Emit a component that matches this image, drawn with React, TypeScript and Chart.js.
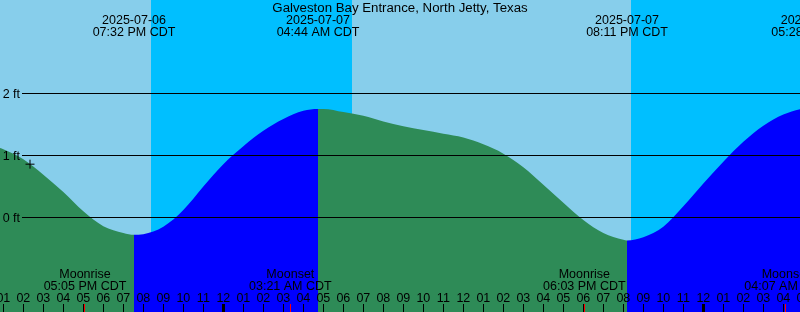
import React, { useEffect, useRef } from "react";
import { Chart, registerables } from "chart.js";

Chart.register(...registerables);

// Hours since 2025-07-06 00:00 CDT
const X_MIN = 12.833;
const X_MAX = 52.833;
const Y_MIN = -1.524;
const Y_MAX = 3.508;

const TITLE = "Galveston Bay Entrance, North Jetty, Texas";

const TIDE_TIMES = [
  12, 12.833, 13, 14, 15, 16, 17, 18, 19, 19.533, 20, 21, 22, 23, 24, 25, 26, 27, 28, 28.733,
  29, 30, 31, 32, 33, 34, 35, 36, 37, 38, 39, 40, 41, 42, 43, 44, 44.183,
  45, 46, 47, 48, 49, 50, 51, 52, 53, 53.467,
];
const TIDE_LEVELS = [
  1.2, 1.12, 1.1, 0.94, 0.69, 0.41, 0.1, -0.14, -0.25, -0.28, -0.27, -0.15, 0.12, 0.5, 0.86, 1.15, 1.4, 1.59, 1.72, 1.75,
  1.75, 1.7, 1.64, 1.55, 1.47, 1.41, 1.35, 1.29, 1.18, 1.03, 0.81, 0.53, 0.24, -0.04, -0.25, -0.36, -0.37,
  -0.32, -0.15, 0.18, 0.55, 0.9, 1.22, 1.48, 1.66, 1.76, 1.78,
];

const EXTREME_TIMES = [19.533, 28.733, 44.183, 53.467];
const EXTREME_DATES = ["2025-07-06", "2025-07-07", "2025-07-07", "2025-07-08"];
const EXTREME_LABELS = ["07:32 PM CDT", "04:44 AM CDT", "08:11 PM CDT", "05:28 AM CDT"];

const MOON_TIMES = [17.083, 27.35, 42.05, 52.117];
const MOON_EVENTS = ["Moonrise", "Moonset", "Moonrise", "Moonset"];
const MOON_LABELS = ["05:05 PM CDT", "03:21 AM CDT", "06:03 PM CDT", "04:07 AM CDT"];

const NIGHT_STARTS = [20.385, 44.385];
const NIGHT_ENDS = [30.435, 54.45];

const HOUR_START = 13;
const HOUR_LABELS = [
  "01", "02", "03", "04", "05", "06", "07", "08", "09", "10", "11", "12",
  "01", "02", "03", "04", "05", "06", "07", "08", "09", "10", "11", "12",
  "01", "02", "03", "04", "05", "06", "07", "08", "09", "10", "11", "12",
  "01", "02", "03", "04", "05",
];
const MIDNIGHTS = [24, 48];

const LEVEL_TICKS = [0, 1, 2];
const LEVEL_LABELS = ["0 ft", "1 ft", "2 ft"];

const NOW_TIME = 14.333;
const NOW_LEVEL = 0.86;

const SKY_DAY = "#87CEEB";
const SKY_NIGHT = "#00BFFF";
const WATER_RISE = "#0000FF";
const WATER_FALL = "#2E8B57";
const FONT = '12.5px "Liberation Sans", Arial, sans-serif';
const TITLE_FONT = '13.25px "Liberation Sans", Arial, sans-serif';

const tidePlugin = {
  id: "tidePlugin",
  beforeDatasetsDraw(chart: any) {
    const { ctx, chartArea: a, scales } = chart;
    const x = scales.x;
    ctx.save();
    ctx.fillStyle = SKY_DAY;
    ctx.fillRect(a.left, a.top, a.right - a.left, a.bottom - a.top);
    ctx.fillStyle = SKY_NIGHT;
    NIGHT_STARTS.forEach((s, i) => {
      const x0 = Math.round(x.getPixelForValue(s));
      const x1 = Math.round(x.getPixelForValue(NIGHT_ENDS[i]));
      ctx.fillRect(x0, a.top, x1 - x0, a.bottom - a.top);
    });
    ctx.restore();
  },
  afterDatasetsDraw(chart: any) {
    const { ctx, chartArea: a, scales } = chart;
    const x = scales.x;
    const y = scales.y;
    ctx.save();
    ctx.font = FONT;
    ctx.fillStyle = "#000";
    ctx.textBaseline = "alphabetic";
    // level lines
    LEVEL_TICKS.forEach((v, i) => {
      const py = Math.floor(y.getPixelForValue(v));
      ctx.fillRect(22, py, a.right - 22, 1);
      ctx.textAlign = "right";
      ctx.fillText(LEVEL_LABELS[i], 20, py + 5);
    });
    ctx.textAlign = "center";
    // title
    ctx.font = TITLE_FONT;
    ctx.fillText(TITLE, (a.left + a.right) / 2, 12);
    ctx.font = FONT;
    // extremes
    EXTREME_TIMES.forEach((t, i) => {
      const px = x.getPixelForValue(t);
      ctx.fillText(EXTREME_DATES[i], px, 24);
      ctx.fillText(EXTREME_LABELS[i], px, 36);
    });
    // moon events
    MOON_TIMES.forEach((t, i) => {
      const px = x.getPixelForValue(t);
      ctx.fillText(MOON_EVENTS[i], px, 278);
      ctx.fillText(MOON_LABELS[i], px, 290);
    });
    // hour ticks + labels
    HOUR_LABELS.forEach((lab, i) => {
      const t = HOUR_START + i;
      const px = x.getPixelForValue(t);
      ctx.fillText(lab, px, 302);
      const thick = MIDNIGHTS.indexOf(t) >= 0;
      if (thick) ctx.fillRect(Math.floor(px) - 1, 304, 3, 8);
      else ctx.fillRect(Math.floor(px), 304, 1, 8);
    });
    ctx.fillStyle = "#FF0000";
    MOON_TIMES.forEach((t) => {
      const px = x.getPixelForValue(t);
      ctx.fillRect(Math.floor(px), 304, 1, 8);
    });
    ctx.restore();
  },
};

export default function App() {
  const ref = useRef<HTMLCanvasElement | null>(null);
  useEffect(() => {
    if (!ref.current) return;
    const chart = new Chart(ref.current, {
      type: "line",
      data: {
        datasets: [
          {
            type: "scatter",
            data: [{ x: NOW_TIME, y: NOW_LEVEL }],
            pointStyle: "cross",
            pointRadius: 4.5,
            borderColor: "#000",
            backgroundColor: "#000",
            borderWidth: 1,
            clip: false,
          } as any,
          {
            data: TIDE_TIMES.map((t, i) => ({ x: t, y: TIDE_LEVELS[i] })),
            fill: "start",
            borderWidth: 0,
            pointRadius: 0,
            cubicInterpolationMode: "monotone",
            backgroundColor: WATER_FALL,
            borderColor: "rgba(0,0,0,0)",
            segment: {
              backgroundColor: (c: any) => (c.p1.parsed.y > c.p0.parsed.y ? WATER_RISE : WATER_FALL),
            },
          } as any,
        ],
      },
      options: {
        animation: false,
        responsive: false,
        maintainAspectRatio: false,
        layout: { padding: 0, autoPadding: false },
        plugins: { legend: { display: false }, tooltip: { enabled: false }, title: { display: false } },
        scales: {
          x: { type: "linear", min: X_MIN, max: X_MAX, display: false },
          y: { type: "linear", min: Y_MIN, max: Y_MAX, display: false },
        },
      },
      plugins: [tidePlugin],
    });
    return () => chart.destroy();
  }, []);
  return (
    <div style={{ position: "fixed", left: 0, top: 0, width: 800, height: 312 }}>
      <canvas ref={ref} width={800} height={312} style={{ display: "block" }} />
    </div>
  );
}
